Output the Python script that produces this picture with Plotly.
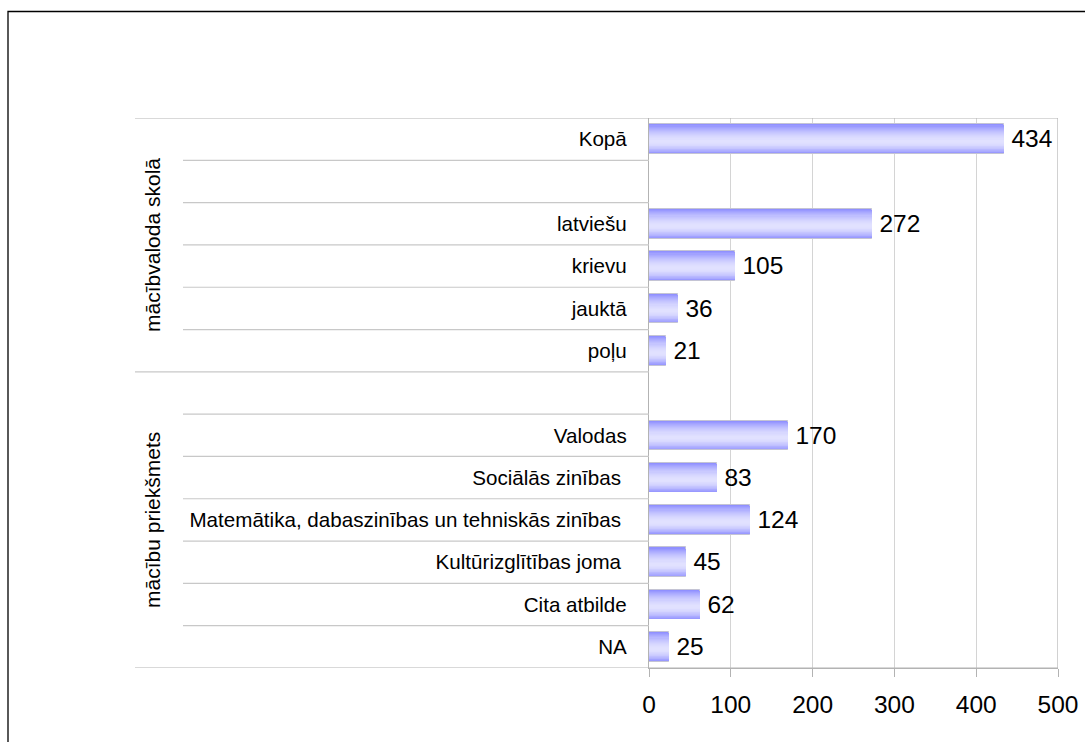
import plotly.graph_objects as go

# Categories (top to bottom); empty strings are spacer rows between groups
categories = [
    "Kopā", "", "latviešu", "krievu", "jauktā", "poļu", "",
    "Valodas", "Sociālās zinības\u00a0",
    "Matemātika, dabaszinības un tehniskās zinības\u00a0",
    "Kultūrizglītības joma\u00a0", "Cita atbilde", "NA",
]
values = [434, None, 272, 105, 36, 21, None, 170, 83, 124, 45, 62, 25]
group_names = ["mācībvaloda skolā", "mācību priekšmets"]
group_rows = [(0, 5), (6, 12)]
x_ticks = [0, 100, 200, 300, 400, 500]

W, H = 1085, 742
FONT = "Liberation Sans, Arial, sans-serif"


def px_x(p):
    return p / W


def px_y(p):
    return 1 - p / H


rows = list(range(len(categories)))
fig = go.Figure()

# Bars with a vertical gradient, built from stacked overlay layers;
# the lightest band sits a little below the bar's centre line
dark = (144, 144, 255)
light = (226, 226, 255)
n_layers = 16
bar_w = 0.7
for i in range(n_layers):
    frac = 1 - i / n_layers
    t = frac ** 1.8
    col = tuple(round(light[k] + (dark[k] - light[k]) * t) for k in range(3))
    w = bar_w * frac
    shift = 0.06 * (1 - frac)
    outer = i == 0
    fig.add_trace(go.Bar(
        x=values, y=rows, orientation="h",
        width=w, offset=-w / 2 + shift,
        marker=dict(color="rgb(%d,%d,%d)" % col,
                    line=dict(color="#c4c4d4", width=1 if outer else 0)),
        text=[("" if v is None else "\u2009" + str(v)) for v in values] if outer else None,
        textposition="outside" if outer else "none",
        textfont=dict(size=24.5, color="black", family=FONT),
        constraintext="none",
        cliponaxis=False,
        hoverinfo="skip",
        showlegend=False,
    ))

shapes = []
grey = "#b3b3b3"
# outer frame of the chart
shapes.append(dict(type="rect", xref="paper", yref="paper",
                   x0=px_x(8), x1=px_x(W + 20), y0=px_y(11.5), y1=px_y(H + 20),
                   line=dict(color="black", width=1.3)))
# row separators on the category side
for k in range(1, len(categories)):
    x_start = 135 if k == 6 else 183
    shapes.append(dict(type="line", xref="paper", yref="y",
                       x0=px_x(x_start), x1=px_x(649), y0=k - 0.5, y1=k - 0.5,
                       line=dict(color="#c8c8c8", width=1.2)))
# top and bottom frame lines across labels and plot
for yv in (-0.5, len(categories) - 0.5):
    shapes.append(dict(type="line", xref="paper", yref="y",
                       x0=px_x(135), x1=px_x(1058), y0=yv, y1=yv,
                       line=dict(color=grey, width=1.2)))
# right edge of the plot area
shapes.append(dict(type="line", xref="x", yref="y",
                   x0=500, x1=500, y0=-0.5, y1=len(categories) - 0.5,
                   line=dict(color=grey, width=1.2)))

annotations = []
for name, (a, b) in zip(group_names, group_rows):
    annotations.append(dict(
        text=name, xref="paper", yref="y", x=px_x(153), y=(a + b) / 2,
        textangle=-90, showarrow=False, xanchor="center", yanchor="middle",
        font=dict(size=21, color="black", family=FONT)))

fig.update_layout(
    width=W, height=H,
    template="none",
    barmode="overlay",
    bargap=0,
    margin=dict(l=0, r=0, t=0, b=0),
    paper_bgcolor="white", plot_bgcolor="white",
    font=dict(family=FONT, color="black"),
    shapes=shapes,
    annotations=annotations,
    xaxis=dict(
        domain=[649 / W, 1058 / W],
        range=[0, 500], tickvals=x_ticks, ticktext=[str(t) for t in x_ticks],
        showgrid=True, gridcolor="#d4d4d4", gridwidth=1,
        zeroline=False, showline=True, linecolor=grey, linewidth=1.2,
        ticks="outside", ticklen=8, tickcolor=grey, tickwidth=1.2,
        ticklabelstandoff=6,
        tickfont=dict(size=24.5, color="black", family=FONT),
        automargin=False, fixedrange=True,
    ),
    yaxis=dict(
        domain=[1 - 668 / H, 1 - 118 / H],
        range=[len(categories) - 0.5, -0.5],
        tickvals=rows, ticktext=categories,
        showgrid=False, zeroline=False,
        showline=True, linecolor=grey, linewidth=1.2,
        ticks="", ticklabelstandoff=17,
        tickfont=dict(size=20.6, color="black", family=FONT),
        automargin=False, fixedrange=True,
    ),
)

fig.write_html("out.html")
